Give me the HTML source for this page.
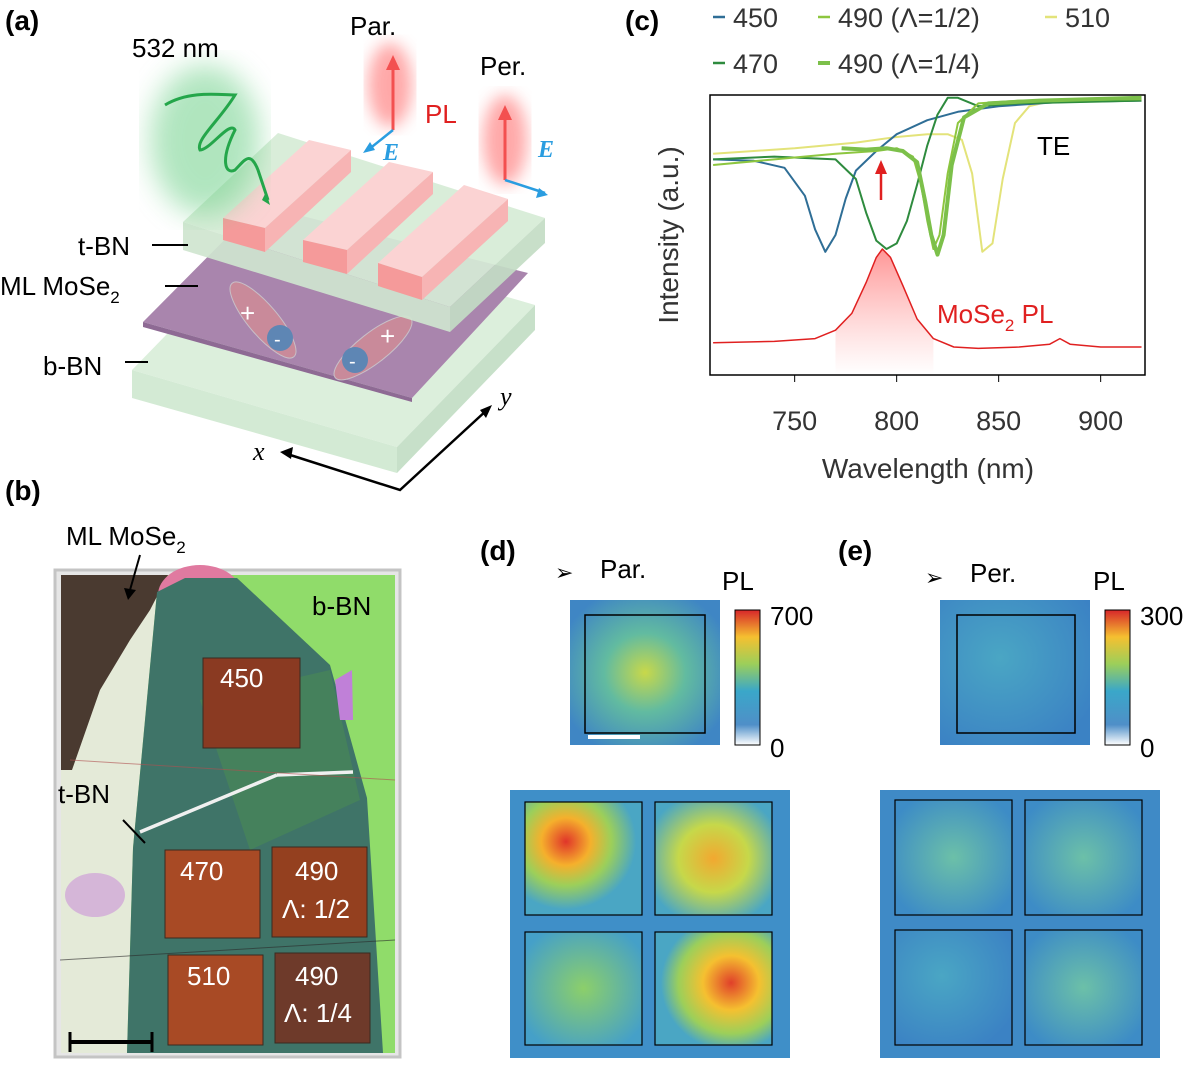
<!DOCTYPE html>
<html><head><meta charset="utf-8">
<style>
body{margin:0;background:#fff;width:1200px;height:1080px;overflow:hidden;font-family:"Liberation Sans",sans-serif;}
svg{position:absolute;left:0;top:0}
</style></head>
<body>
<svg id="fig" width="1200" height="1080" viewBox="0 0 1200 1080">
<defs>
 <filter id="blur8"><feGaussianBlur stdDeviation="8"/></filter>
 <filter id="blur14"><feGaussianBlur stdDeviation="14"/></filter>
 <filter id="blur3"><feGaussianBlur stdDeviation="3"/></filter>
 <linearGradient id="cbar" x1="0" y1="1" x2="0" y2="0">
  <stop offset="0" stop-color="#ffffff"/><stop offset="0.15" stop-color="#4f8fc8"/>
  <stop offset="0.4" stop-color="#3aa7c9"/><stop offset="0.6" stop-color="#9ccf5a"/>
  <stop offset="0.8" stop-color="#f5c030"/><stop offset="1" stop-color="#d7262a"/>
 </linearGradient>
 <linearGradient id="plfill" x1="0" y1="0" x2="0" y2="1">
  <stop offset="0" stop-color="#ff5050" stop-opacity="0.6"/><stop offset="1" stop-color="#ff8080" stop-opacity="0"/>
 </linearGradient>
 <radialGradient id="hmA" cx="0.5" cy="0.5" r="0.6">
  <stop offset="0" stop-color="#c8d84a"/><stop offset="0.45" stop-color="#62bba0"/><stop offset="1" stop-color="#3f86c4"/>
 </radialGradient>
 <radialGradient id="hmB" cx="0.4" cy="0.4" r="0.7">
  <stop offset="0" stop-color="#4aa6c4"/><stop offset="1" stop-color="#3b82c4"/>
 </radialGradient>
 <radialGradient id="hot1" cx="0.35" cy="0.35" r="0.6">
  <stop offset="0" stop-color="#e0352a"/><stop offset="0.35" stop-color="#f5b02c"/><stop offset="0.65" stop-color="#9ccf5a"/><stop offset="1" stop-color="#4aa6c4"/>
 </radialGradient>
 <radialGradient id="hot2" cx="0.5" cy="0.5" r="0.6">
  <stop offset="0" stop-color="#f2a830"/><stop offset="0.5" stop-color="#c6d84a"/><stop offset="1" stop-color="#4aa6c4"/>
 </radialGradient>
 <radialGradient id="hot3" cx="0.5" cy="0.5" r="0.6">
  <stop offset="0" stop-color="#8ccf6a"/><stop offset="1" stop-color="#45a0c8"/>
 </radialGradient>
 <radialGradient id="hot4" cx="0.65" cy="0.45" r="0.6">
  <stop offset="0" stop-color="#e0402a"/><stop offset="0.4" stop-color="#f5c030"/><stop offset="0.75" stop-color="#9ccf5a"/><stop offset="1" stop-color="#4aa6c4"/>
 </radialGradient>
 <radialGradient id="cold" cx="0.5" cy="0.5" r="0.6">
  <stop offset="0" stop-color="#6cc0a8"/><stop offset="1" stop-color="#3d8cc6"/>
 </radialGradient>
</defs>

<!-- PANEL A -->
<g>
 <text x="5" y="30" font-size="28" font-weight="bold">(a)</text>
 <!-- b-BN -->
 <polygon points="132,370 270,228 535,305 397,447" fill="#dcefdc"/>
 <polygon points="132,370 397,447 397,473 132,398" fill="#d3ead4"/>
 <polygon points="397,447 535,305 535,330 397,473" fill="#c7e0c9"/>
 <!-- purple -->
 <polygon points="143,322 259,205 528,273 412,398" fill="#a985ad"/>
 <polygon points="143,322 412,398 412,402 143,327" fill="#8e6a94"/>
 <!-- excitons -->
 <g>
  <ellipse cx="263" cy="320" rx="48" ry="15" transform="rotate(50 263 320)" fill="#c98a9a" stroke="#c8c0c8"/>
  <circle cx="280" cy="338" r="13" fill="#5e86b4"/>
  <text x="240" y="322" fill="#fff" font-size="26">+</text><text x="274" y="346" fill="#fff" font-size="20">-</text>
 </g>
 <g>
  <ellipse cx="373" cy="348" rx="48" ry="15" transform="rotate(-38 373 348)" fill="#c98a9a" stroke="#c8c0c8"/>
  <circle cx="355" cy="360" r="13" fill="#5e86b4"/>
  <text x="349" y="368" fill="#fff" font-size="20">-</text><text x="380" y="345" fill="#fff" font-size="26">+</text>
 </g>
 <!-- t-BN -->
 <polygon points="183,222 278,133 545,218 450,307" fill="#d6ebd6" opacity="0.92"/>
 <polygon points="183,222 450,307 450,332 183,250" fill="#cfe5cf" opacity="0.92"/>
 <polygon points="450,307 545,218 545,243 450,332" fill="#c3dcc4" opacity="0.92"/>
 <!-- bars -->
 <g>
  <polygon points="223,218 309,140 351,150 265,228" fill="#fbd3d3"/>
  <polygon points="223,218 265,228 265,252 223,240" fill="#f59a9a"/>
  <polygon points="265,228 351,150 351,172 265,252" fill="#f7b4b4"/>
  <polygon points="303,240 389,162 433,172 347,250" fill="#fbd3d3"/>
  <polygon points="303,240 347,250 347,274 303,262" fill="#f59a9a"/>
  <polygon points="347,250 433,172 433,194 347,274" fill="#f7b4b4"/>
  <polygon points="378,263 464,185 508,199 422,277" fill="#fbd3d3"/>
  <polygon points="378,263 422,277 422,300 378,286" fill="#f59a9a"/>
  <polygon points="422,277 508,199 508,221 422,300" fill="#f7b4b4"/>
 </g>
 <!-- green wave -->
 <ellipse cx="205" cy="140" rx="55" ry="75" fill="#6fd08a" opacity="0.55" filter="url(#blur14)"/>
 <path d="M165,105 C190,90 220,95 235,95 C220,120 195,140 200,150 C210,150 230,120 235,130 C220,160 225,175 235,170 C245,160 250,150 258,170 L268,200" fill="none" stroke="#24a64a" stroke-width="3"/>
 <polygon points="262,200 270,205 266,192" fill="#24a64a"/>
 <text x="132" y="57" font-size="26">532 nm</text>
 <!-- PL glows -->
 <ellipse cx="390" cy="85" rx="22" ry="42" fill="#ff7070" opacity="0.6" filter="url(#blur8)"/>
 <ellipse cx="505" cy="140" rx="22" ry="45" fill="#ff7070" opacity="0.6" filter="url(#blur8)"/>
 <line x1="393" y1="130" x2="393" y2="60" stroke="#f35050" stroke-width="3"/><polygon points="386,70 393,55 400,70" fill="#f35050"/>
 <line x1="505" y1="180" x2="505" y2="110" stroke="#f35050" stroke-width="3"/><polygon points="498,120 505,105 512,120" fill="#f35050"/>
 <line x1="393" y1="130" x2="368" y2="150" stroke="#2a9de0" stroke-width="2.5"/><polygon points="363,153 370,142 375,150" fill="#2a9de0"/>
 <line x1="505" y1="180" x2="545" y2="193" stroke="#2a9de0" stroke-width="2.5"/><polygon points="548,195 536,198 539,188" fill="#2a9de0"/>
 <text x="383" y="160" font-size="24" font-style="italic" font-weight="bold" fill="#2a9de0" font-family="Liberation Serif,serif">E</text>
 <text x="538" y="157" font-size="24" font-style="italic" font-weight="bold" fill="#2a9de0" font-family="Liberation Serif,serif">E</text>
 <text x="350" y="35" font-size="26">Par.</text>
 <text x="480" y="75" font-size="26">Per.</text>
 <text x="425" y="123" font-size="26" fill="#e02020">PL</text>
 <text x="78" y="255" font-size="26">t-BN</text>
 <line x1="152" y1="245" x2="188" y2="245" stroke="#000" stroke-width="2"/>
 <text x="0" y="295" font-size="26">ML MoSe<tspan font-size="17" dy="8">2</tspan></text>
 <line x1="165" y1="286" x2="198" y2="286" stroke="#000" stroke-width="2"/>
 <text x="43" y="375" font-size="26">b-BN</text>
 <line x1="125" y1="362" x2="148" y2="362" stroke="#000" stroke-width="2"/>
 <!-- axes -->
 <polyline points="284,453 400,490 488,409" fill="none" stroke="#000" stroke-width="2.5"/>
 <polygon points="280,452 293,447 291,459" fill="#000"/><polygon points="492,405 486,418 480,410" fill="#000"/>
 <text x="253" y="460" font-size="26" font-style="italic" font-family="Liberation Serif,serif">x</text>
 <text x="500" y="405" font-size="26" font-style="italic" font-family="Liberation Serif,serif">y</text>
</g>

<!-- PANEL B -->
<g>
 <text x="5" y="500" font-size="28" font-weight="bold">(b)</text>
 <text x="66" y="545" font-size="26">ML MoSe<tspan font-size="17" dy="8">2</tspan></text>
 <rect x="55" y="570" width="345" height="487" fill="#e6e6e6" stroke="#c4c4c4" stroke-width="3"/>
 <rect x="61" y="575" width="334" height="478" fill="#90dc6a"/>
 <!-- left light region -->
 <polygon points="61,640 157,592 133,848 127,1053 61,1053" fill="#e4ead8"/>
 <ellipse cx="95" cy="895" rx="30" ry="22" fill="#cfa0d8" opacity="0.7"/>
 <!-- dark top-left -->
 <polygon points="61,575 168,575 150,610 130,640 100,690 72,770 61,770" fill="#4a3a30"/>
 <!-- pink -->
 <ellipse cx="200" cy="595" rx="42" ry="30" fill="#e07aa0"/>
 <!-- center teal -->
 <polygon points="157,592 185,578 237,578 330,665 367,798 383,1053 127,1053 133,848" fill="#3f7468"/>
 <polygon points="200,700 330,670 360,800 250,850" fill="#4a8a55" opacity="0.6"/>
 <polygon points="335,680 352,670 353,720 340,720" fill="#c080d8"/>
 <line x1="140" y1="832" x2="277" y2="775" stroke="#f0f0f0" stroke-width="3.5"/>
 <line x1="277" y1="775" x2="353" y2="772" stroke="#f0f0f0" stroke-width="3.5"/>
 <line x1="70" y1="760" x2="395" y2="780" stroke="#b05050" stroke-width="1" opacity="0.6"/>
 <line x1="60" y1="960" x2="395" y2="940" stroke="#2a2a2a" stroke-width="1" opacity="0.6"/>
 <rect x="203" y="658" width="97" height="90" fill="#8a3a22" stroke="#3a2a20"/>
 <rect x="165" y="850" width="95" height="88" fill="#a84a25" stroke="#3a2a20"/>
 <rect x="272" y="847" width="95" height="90" fill="#94401f" stroke="#3a2a20"/>
 <rect x="168" y="955" width="95" height="90" fill="#a84a25" stroke="#3a2a20"/>
 <rect x="275" y="953" width="95" height="90" fill="#6e3a2a" stroke="#3a2a20"/>
 <g fill="#fff" font-size="26">
  <text x="220" y="687">450</text><text x="180" y="880">470</text><text x="295" y="880">490</text>
  <text x="282" y="918">Λ: 1/2</text><text x="187" y="985">510</text><text x="295" y="985">490</text><text x="284" y="1022">Λ: 1/4</text>
 </g>
 <text x="312" y="615" font-size="26">b-BN</text>
 <text x="58" y="803" font-size="26">t-BN</text>
 <line x1="123" y1="820" x2="145" y2="843" stroke="#000" stroke-width="2"/>
 <line x1="140" y1="555" x2="130" y2="590" stroke="#000" stroke-width="2"/><polygon points="124,588 136,590 128,600" fill="#000"/>
 <line x1="70" y1="1042" x2="152" y2="1042" stroke="#000" stroke-width="4"/>
 <line x1="70" y1="1032" x2="70" y2="1052" stroke="#000" stroke-width="3"/><line x1="152" y1="1032" x2="152" y2="1052" stroke="#000" stroke-width="3"/>
</g>

<!-- PANEL C -->
<g id="chartC">
 <text x="625" y="30" font-size="28" font-weight="bold">(c)</text>
 <rect x="710" y="95" width="435" height="280" fill="none" stroke="#000" stroke-width="1.5"/>
 <text transform="translate(678,235) rotate(-90)" text-anchor="middle" font-size="28" fill="#333">Intensity (a.u.)</text>
 <text x="928" y="478" text-anchor="middle" font-size="28" fill="#333">Wavelength (nm)</text>
 <text x="1037" y="155" font-size="26">TE</text>
 <text x="937" y="323" font-size="26" fill="#e02020">MoSe<tspan font-size="17" dy="8">2</tspan><tspan dy="-8"> PL</tspan></text>
 <line x1="881" y1="200" x2="881" y2="172" stroke="#e02020" stroke-width="2.5"/>
 <polygon points="875,174 881,160 887,174" fill="#e02020"/>
 <g font-size="27" fill="#333">
  <line x1="713" y1="17" x2="725" y2="17" stroke="#2f6e96" stroke-width="2.5"/><text x="733" y="27">450</text>
  <line x1="818" y1="17" x2="830" y2="17" stroke="#8dc63f" stroke-width="2.5"/><text x="838" y="27">490 (Λ=1/2)</text>
  <line x1="1045" y1="17" x2="1057" y2="17" stroke="#e3e37a" stroke-width="2.5"/><text x="1065" y="27">510</text>
  <line x1="713" y1="63" x2="725" y2="63" stroke="#2e8b3e" stroke-width="2.5"/><text x="733" y="73">470</text>
  <line x1="818" y1="63" x2="830" y2="63" stroke="#7cc04a" stroke-width="4"/><text x="838" y="73">490 (Λ=1/4)</text>
 </g>
 <g id="xticks"></g>
 <g id="series"></g>
</g>

<!-- PANEL D -->
<g>
 <text x="480" y="560" font-size="28" font-weight="bold">(d)</text>
 <text x="555" y="580" font-size="22">➢</text>
 <text x="600" y="578" font-size="26">Par.</text>
 <text x="722" y="590" font-size="26">PL</text>
 <rect x="570" y="600" width="150" height="145" fill="url(#hmA)"/>
 <rect x="585" y="615" width="120" height="118" fill="none" stroke="#000" stroke-width="1.5"/>
 <line x1="588" y1="737" x2="640" y2="737" stroke="#fff" stroke-width="4"/>
 <rect x="735" y="610" width="25" height="135" fill="url(#cbar)" stroke="#000"/>
 <text x="770" y="625" font-size="26">700</text><text x="770" y="757" font-size="26">0</text>
 <rect x="510" y="790" width="280" height="268" fill="#3f8fc8"/>
 <rect x="525" y="802" width="117" height="113" fill="url(#hot1)"/>
 <rect x="655" y="802" width="117" height="113" fill="url(#hot2)"/>
 <rect x="525" y="932" width="117" height="113" fill="url(#hot3)"/>
 <rect x="655" y="932" width="117" height="113" fill="url(#hot4)"/>
 <g fill="none" stroke="#000" stroke-width="1.2">
  <rect x="525" y="802" width="117" height="113"/><rect x="655" y="802" width="117" height="113"/>
  <rect x="525" y="932" width="117" height="113"/><rect x="655" y="932" width="117" height="113"/>
 </g>
</g>

<!-- PANEL E -->
<g>
 <text x="838" y="560" font-size="28" font-weight="bold">(e)</text>
 <text x="925" y="585" font-size="22">➢</text>
 <text x="970" y="582" font-size="26">Per.</text>
 <text x="1093" y="590" font-size="26">PL</text>
 <rect x="940" y="600" width="150" height="145" fill="url(#hmB)"/>
 <rect x="957" y="615" width="118" height="118" fill="none" stroke="#000" stroke-width="1.5"/>
 <rect x="1105" y="610" width="25" height="135" fill="url(#cbar)" stroke="#000"/>
 <text x="1140" y="625" font-size="26">300</text><text x="1140" y="757" font-size="26">0</text>
 <rect x="880" y="790" width="280" height="268" fill="#3f8ac6"/>
 <rect x="895" y="800" width="117" height="115" fill="url(#cold)"/>
 <rect x="1025" y="800" width="117" height="115" fill="url(#cold)"/>
 <rect x="895" y="930" width="117" height="115" fill="url(#hmB)"/>
 <rect x="1025" y="930" width="117" height="115" fill="url(#cold)"/>
 <g fill="none" stroke="#000" stroke-width="1.2">
  <rect x="895" y="800" width="117" height="115"/><rect x="1025" y="800" width="117" height="115"/>
  <rect x="895" y="930" width="117" height="115"/><rect x="1025" y="930" width="117" height="115"/>
 </g>
</g>
</svg>
<script>
const xTicks=[750,800,850,900];
const w450=[710,730,745,755,760,765,770,775,780,790,800,815,830,850,880,920];
const v450=[0.77,0.765,0.74,0.64,0.52,0.44,0.5,0.63,0.73,0.8,0.86,0.91,0.94,0.96,0.975,0.98];
const w470=[710,740,770,780,785,790,795,800,805,810,815,820,825,830,840,860,920];
const v470=[0.77,0.78,0.77,0.7,0.58,0.48,0.45,0.47,0.55,0.68,0.82,0.93,0.99,0.99,0.96,0.97,0.98];
const w490h=[710,740,770,790,800,808,812,815,818,821,825,830,840,860,920];
const v490h=[0.75,0.77,0.79,0.8,0.81,0.78,0.68,0.55,0.45,0.5,0.72,0.9,0.97,0.98,0.985];
const w490q=[773,785,795,803,810,814,817,820,823,827,833,845,870,920];
const v490q=[0.81,0.805,0.81,0.8,0.76,0.62,0.5,0.43,0.5,0.75,0.92,0.97,0.98,0.99];
const w510=[710,750,780,800,815,825,832,837,842,847,852,858,865,880,920];
const v510=[0.79,0.81,0.83,0.85,0.86,0.86,0.84,0.72,0.44,0.47,0.7,0.9,0.96,0.985,0.99];
const wPL=[710,740,760,770,778,785,790,793,797,803,810,818,828,840,860,875,880,885,900,920];
const vPL=[0.115,0.12,0.13,0.16,0.22,0.33,0.42,0.45,0.42,0.32,0.2,0.13,0.1,0.095,0.1,0.11,0.13,0.11,0.1,0.1];
const NS='http://www.w3.org/2000/svg';
function xS(w){return 710+(w-708.5)*2.04;}
function yS(v){return 375-v*280;}
const tg=document.getElementById('xticks');
xTicks.forEach(t=>{
 const l=document.createElementNS(NS,'line');
 l.setAttribute('x1',xS(t));l.setAttribute('x2',xS(t));l.setAttribute('y1',375);l.setAttribute('y2',382);l.setAttribute('stroke','#000');
 
 
 tg.appendChild(l);
 const tx=document.createElementNS(NS,'text');
 tx.setAttribute('x',xS(t));tx.setAttribute('y',430);tx.setAttribute('text-anchor','middle');tx.setAttribute('font-size','27');tx.setAttribute('fill','#333');
 tx.textContent=t;
 
 
 tg.appendChild(tx);
});
const sg=document.getElementById('series');
function pts(w,v){return w.map((x,i)=>xS(x).toFixed(1)+','+yS(v[i]).toFixed(1)).join(' ');}
const fillP=document.createElementNS(NS,'polygon');
const fw=[],fv=[];wPL.forEach((w,i)=>{if(w>=770&&w<=818){fw.push(w);fv.push(vPL[i]);}});
fillP.setAttribute('points',pts(fw,fv)+' '+xS(818)+','+yS(0)+' '+xS(770)+','+yS(0));
fillP.setAttribute('fill','url(#plfill)');


sg.appendChild(fillP);
function addLine(w,v,c,sw,name){
 const p=document.createElementNS(NS,'polyline');
 p.setAttribute('points',pts(w,v));p.setAttribute('fill','none');p.setAttribute('stroke',c);p.setAttribute('stroke-width',sw);p.setAttribute('stroke-linejoin','round');
 
 
 sg.appendChild(p);
}
addLine(w510,v510,'#e3e37a',2,'series-510');
addLine(w450,v450,'#2f6e96',2,'series-450');
addLine(w470,v470,'#2e8b3e',2,'series-470');
addLine(w490h,v490h,'#8dc63f',2,'series-490-half');
addLine(w490q,v490q,'#7cc04a',4,'series-490-quarter');
addLine(wPL,vPL,'#e02020',1.5,'series-pl');
</script>
</body></html>
